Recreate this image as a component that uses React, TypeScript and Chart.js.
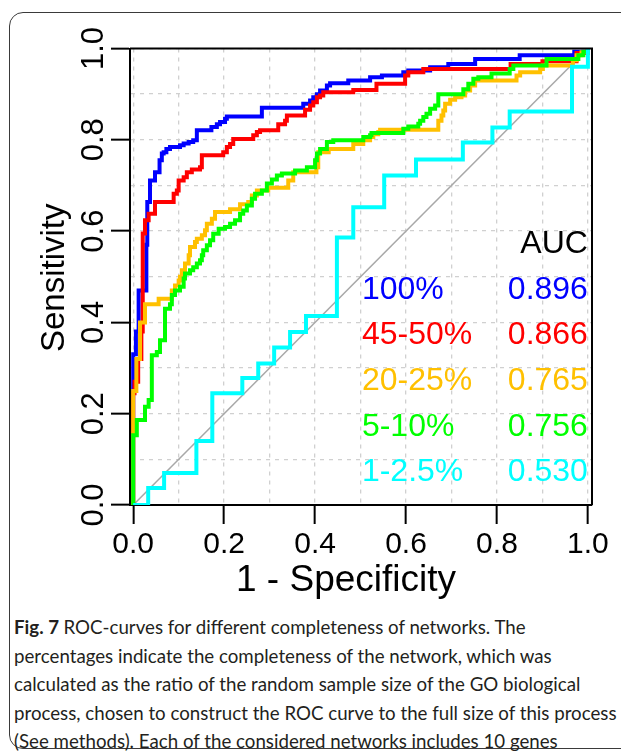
import React, { useEffect, useRef } from "react";
import { Chart, registerables } from "chart.js";

Chart.register(...registerables);

// ROC corner points (false positive rate, true positive rate)
const blueFpr = [0, 0, 0.006, 0.012, 0.029, 0.031, 0.037, 0.048, 0.058, 0.063, 0.067, 0.073, 0.081, 0.103, 0.111, 0.122, 0.132, 0.14, 0.172, 0.184, 0.191, 0.202, 0.206, 0.283, 0.374, 0.389, 0.396, 0.404, 0.411, 0.426, 0.433, 0.473, 0.521, 0.547, 0.594, 0.605, 0.653, 0.693, 0.752, 0.85, 0.97, 1];
const blueTpr = [0, 0.33, 0.38, 0.47, 0.57, 0.664, 0.711, 0.729, 0.755, 0.77, 0.773, 0.78, 0.784, 0.788, 0.792, 0.795, 0.799, 0.821, 0.828, 0.834, 0.839, 0.846, 0.851, 0.87, 0.879, 0.886, 0.893, 0.9, 0.908, 0.919, 0.924, 0.93, 0.937, 0.941, 0.948, 0.952, 0.959, 0.966, 0.977, 0.985, 0.993, 1];

const redFpr = [0, 0, 0.003, 0.011, 0.018, 0.021, 0.026, 0.034, 0.048, 0.089, 0.096, 0.1, 0.111, 0.118, 0.129, 0.147, 0.151, 0.198, 0.206, 0.213, 0.22, 0.264, 0.272, 0.279, 0.319, 0.334, 0.338, 0.378, 0.389, 0.396, 0.404, 0.411, 0.418, 0.484, 0.535, 0.598, 0.605, 0.638, 0.83, 0.9, 0.975, 1];
const redTpr = [0, 0.245, 0.27, 0.32, 0.38, 0.595, 0.624, 0.638, 0.664, 0.682, 0.689, 0.711, 0.718, 0.729, 0.735, 0.74, 0.766, 0.773, 0.784, 0.791, 0.802, 0.81, 0.817, 0.821, 0.834, 0.842, 0.853, 0.866, 0.875, 0.882, 0.893, 0.897, 0.904, 0.909, 0.923, 0.941, 0.948, 0.955, 0.966, 0.972, 0.99, 1];

const orangeFpr = [0, 0, 0.007, 0.015, 0.026, 0.056, 0.085, 0.092, 0.1, 0.103, 0.107, 0.114, 0.122, 0.125, 0.136, 0.14, 0.151, 0.158, 0.162, 0.173, 0.18, 0.213, 0.235, 0.253, 0.261, 0.272, 0.297, 0.341, 0.352, 0.403, 0.407, 0.43, 0.484, 0.506, 0.521, 0.528, 0.539, 0.543, 0.671, 0.678, 0.682, 0.686, 0.697, 0.708, 0.722, 0.73, 0.741, 0.752, 0.843, 0.851, 0.895, 0.901, 0.967, 0.975, 0.986, 1];
const orangeTpr = [0, 0.25, 0.32, 0.4, 0.44, 0.452, 0.47, 0.481, 0.492, 0.5, 0.514, 0.529, 0.547, 0.565, 0.576, 0.583, 0.591, 0.602, 0.616, 0.627, 0.642, 0.648, 0.659, 0.664, 0.678, 0.689, 0.695, 0.711, 0.729, 0.74, 0.773, 0.78, 0.791, 0.799, 0.806, 0.812, 0.817, 0.822, 0.842, 0.853, 0.864, 0.879, 0.888, 0.893, 0.897, 0.908, 0.919, 0.93, 0.941, 0.948, 0.955, 0.963, 0.974, 0.985, 0.992, 1];

const greenFpr = [0, 0, 0.008, 0.026, 0.034, 0.041, 0.052, 0.059, 0.07, 0.081, 0.085, 0.092, 0.103, 0.111, 0.114, 0.125, 0.132, 0.14, 0.147, 0.151, 0.154, 0.162, 0.169, 0.176, 0.188, 0.202, 0.213, 0.224, 0.235, 0.242, 0.25, 0.261, 0.268, 0.283, 0.294, 0.305, 0.316, 0.327, 0.356, 0.382, 0.4, 0.404, 0.411, 0.426, 0.44, 0.506, 0.521, 0.524, 0.594, 0.605, 0.627, 0.631, 0.638, 0.645, 0.653, 0.664, 0.671, 0.726, 0.737, 0.748, 0.759, 0.788, 0.828, 0.836, 0.909, 0.979, 0.99, 1];
const greenTpr = [0, 0.153, 0.186, 0.215, 0.23, 0.328, 0.335, 0.361, 0.43, 0.44, 0.46, 0.47, 0.478, 0.496, 0.507, 0.514, 0.521, 0.529, 0.536, 0.547, 0.558, 0.569, 0.58, 0.594, 0.605, 0.609, 0.616, 0.624, 0.638, 0.645, 0.656, 0.671, 0.682, 0.689, 0.704, 0.713, 0.722, 0.726, 0.733, 0.74, 0.755, 0.77, 0.78, 0.795, 0.799, 0.806, 0.81, 0.815, 0.824, 0.829, 0.835, 0.842, 0.85, 0.857, 0.868, 0.875, 0.9, 0.911, 0.923, 0.934, 0.937, 0.945, 0.955, 0.963, 0.977, 0.985, 0.993, 1];

const cyanFpr = [0, 0.033, 0.068, 0.139, 0.174, 0.24, 0.275, 0.31, 0.345, 0.38, 0.448, 0.484, 0.552, 0.622, 0.725, 0.79, 0.828, 0.965, 1];
const cyanTpr = [0, 0.037, 0.07, 0.14, 0.245, 0.278, 0.31, 0.345, 0.379, 0.414, 0.586, 0.652, 0.722, 0.757, 0.794, 0.827, 0.862, 0.96, 1];

const diagonalX = [0, 1];
const diagonalY = [0, 1];

const seriesLabels = ["100%", "45-50%", "20-25%", "5-10%", "1-2.5%"];
const aucValues = ["0.896", "0.866", "0.765", "0.756", "0.530"];
const seriesColors = ["#0000FF", "#FF0000", "#FFC000", "#00FF00", "#00FFFF"];

const xTitle = "1 - Specificity";
const yTitle = "Sensitivity";

const captionLines = [
  "ROC-curves for different completeness of networks. The",
  "percentages indicate the completeness of the network, which was",
  "calculated as the ratio of the random sample size of the GO biological",
  "process, chosen to construct the ROC curve to the full size of this process",
  "(See methods). Each of the considered networks includes 10 genes",
];

const FONT = "'Liberation Sans', Arial, Helvetica, sans-serif";

const zip = (xs: number[], ys: number[]) => xs.map((x, i) => ({ x, y: ys[i] }));

const tickLabel = (v: number | string) => {
  const k = Math.round(Number(v) * 10);
  return k % 2 === 0 ? (k / 10).toFixed(1) : "";
};
const tickColor = (ctx: any) => {
  const v = ctx.tick ? ctx.tick.value : 0;
  return Math.round(v * 10) % 2 === 0 ? "#000" : "rgba(0,0,0,0)";
};

const overlayPlugin = {
  id: "overlay",
  afterDatasetsDraw(chart: any) {
    const { ctx, chartArea, scales } = chart;
    const xs = scales.x;
    const ys = scales.y;
    ctx.save();
    ctx.strokeStyle = "#000";
    ctx.lineWidth = 2;
    ctx.beginPath();
    ctx.moveTo(chartArea.left, chartArea.top);
    ctx.lineTo(chartArea.right, chartArea.top);
    ctx.lineTo(chartArea.right, chartArea.bottom);
    ctx.stroke();

    ctx.font = `32px ${FONT}`;
    ctx.textBaseline = "middle";
    ctx.fillStyle = "#000";
    ctx.textAlign = "right";
    ctx.fillText("AUC", xs.getPixelForValue(1), ys.getPixelForValue(0.571));
    seriesLabels.forEach((label, i) => {
      const yv = 0.471 - i * 0.1;
      ctx.fillStyle = seriesColors[i];
      ctx.textAlign = "left";
      ctx.fillText(label, xs.getPixelForValue(0.503), ys.getPixelForValue(yv));
      ctx.textAlign = "right";
      ctx.fillText(aucValues[i], xs.getPixelForValue(1), ys.getPixelForValue(yv));
    });

    // axis titles
    ctx.fillStyle = "#000";
    ctx.textAlign = "center";
    ctx.font = `37px ${FONT}`;
    ctx.fillText(xTitle, (chartArea.left + chartArea.right) / 2 - 15, chartArea.bottom + 76);
    ctx.font = `33px ${FONT}`;
    ctx.translate(55, (chartArea.top + chartArea.bottom) / 2 + 1);
    ctx.rotate(-Math.PI / 2);
    ctx.fillText(yTitle, 0, 0);
    ctx.restore();
  },
};

function RocChart() {
  const ref = useRef<HTMLCanvasElement | null>(null);
  useEffect(() => {
    if (!ref.current) return;
    const curve = (xs: number[], ys: number[], color: string, order: number) => ({
      data: zip(xs, ys),
      borderColor: color,
      backgroundColor: color,
      borderWidth: 4,
      pointRadius: 0,
      stepped: "before" as const,
      fill: false,
      order,
      borderJoinStyle: "miter" as const,
      borderCapStyle: "butt" as const,
    });
    const chart = new Chart(ref.current, {
      type: "line",
      data: {
        datasets: [
          {
            data: zip(diagonalX, diagonalY),
            borderColor: "#A8A8A8",
            borderWidth: 1.5,
            pointRadius: 0,
            fill: false,
            order: 10,
          },
          curve(blueFpr, blueTpr, seriesColors[0], 5),
          curve(redFpr, redTpr, seriesColors[1], 4),
          curve(orangeFpr, orangeTpr, seriesColors[2], 3),
          curve(greenFpr, greenTpr, seriesColors[3], 2),
          curve(cyanFpr, cyanTpr, seriesColors[4], 1),
        ] as any,
      },
      options: {
        animation: false,
        responsive: false,
        devicePixelRatio: 1,
        parsing: false,
        layout: { padding: { top: 48.5, right: 29, left: 0, bottom: 0 } },
        plugins: { legend: { display: false }, tooltip: { enabled: false }, title: { display: false } },
        scales: {
          x: {
            type: "linear",
            position: "bottom",
            min: -0.007,
            max: 1.009,
            afterFit: (s: any) => {
              s.height = 95;
            },
            ticks: {
              stepSize: 0.1,
              includeBounds: false,
              autoSkip: false,
              maxRotation: 0,
              minRotation: 0,
              padding: 3,
              color: "#000",
              font: { family: FONT, size: 30 },
              callback: tickLabel,
            },
            grid: {
              color: "#D0D0D0",
              lineWidth: 1.3,
              tickLength: 19,
              tickWidth: 2,
              tickColor,
            },
            border: { display: true, color: "#000", width: 2, dash: [4, 5] },
            title: { display: false, text: xTitle },
          },
          y: {
            type: "linear",
            position: "left",
            min: 0,
            max: 1,
            afterFit: (s: any) => {
              s.width = 130;
            },
            ticks: {
              stepSize: 0.1,
              includeBounds: false,
              autoSkip: false,
              minRotation: 90,
              maxRotation: 90,
              crossAlign: "center",
              padding: -5,
              color: "#000",
              font: { family: FONT, size: 31 },
              callback: tickLabel,
            },
            grid: {
              color: "#D0D0D0",
              lineWidth: 1.3,
              tickLength: 19,
              tickWidth: 2,
              tickColor,
            },
            border: { display: true, color: "#000", width: 2, dash: [4, 5] },
            title: { display: false, text: yTitle },
          },
        },
      } as any,
      plugins: [overlayPlugin],
    });
    return () => chart.destroy();
  }, []);
  return (
    <canvas
      ref={ref}
      width={621}
      height={600}
      style={{ position: "absolute", left: 0, top: 0, width: 621, height: 600 }}
    />
  );
}

export default function App() {
  return (
    <div
      style={{
        position: "fixed",
        left: 0,
        top: 0,
        width: 621,
        height: 752,
        overflow: "hidden",
        background: "#fff",
      }}
    >
      <div
        style={{
          position: "absolute",
          left: 9,
          top: 12,
          width: 660,
          height: 737,
          border: "1.5px solid #3a3a3a",
          borderRadius: 14,
          boxSizing: "border-box",
        }}
      />
      <RocChart />
      <div
        style={{
          position: "absolute",
          left: 14,
          top: 613,
          fontFamily: "Lato, 'Open Sans', sans-serif",
          fontSize: 18.7,
          lineHeight: "28.5px",
          color: "#231F20",
          whiteSpace: "nowrap",
        }}
      >
        {captionLines.map((line, i) => (
          <div key={i}>
            {i === 0 ? <b>Fig. 7 </b> : null}
            {line}
          </div>
        ))}
      </div>
    </div>
  );
}
